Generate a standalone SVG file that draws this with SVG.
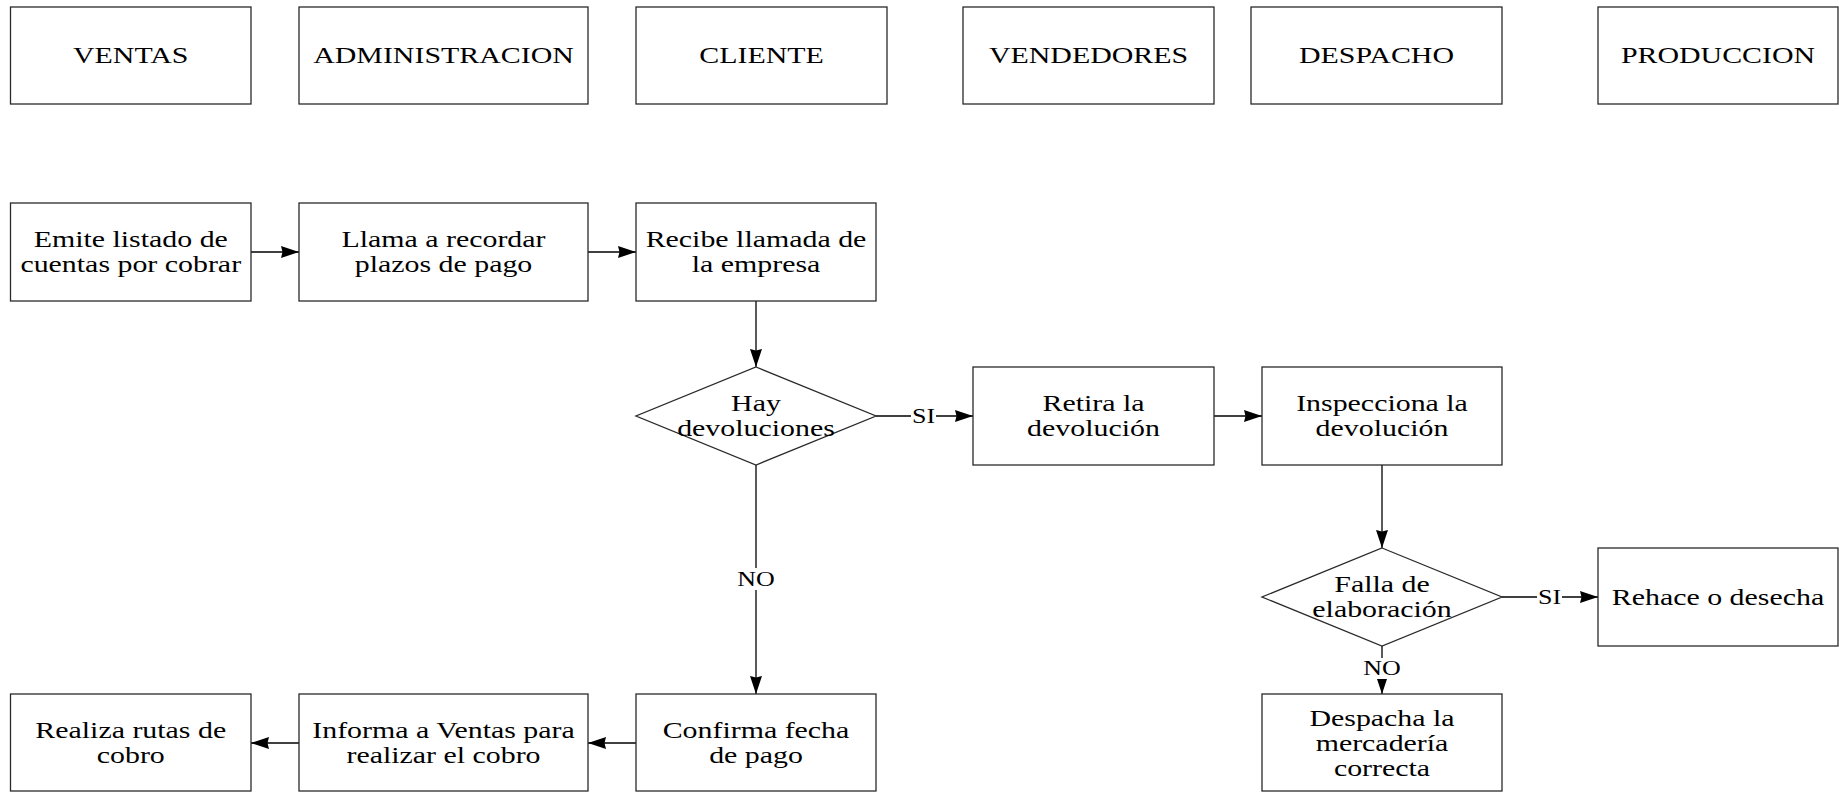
<svg xmlns="http://www.w3.org/2000/svg" width="1839" height="792" viewBox="0 0 1839 792">
<style>
  .box { fill: #ffffff; stroke: #2a2a2a; stroke-width: 1.3; }
  .t { font-family: "Liberation Serif", "Times New Roman", serif; font-size: 23px; fill: #000; text-anchor: middle; }
  .lbl { font-family: "Liberation Serif", "Times New Roman", serif; font-size: 20px; fill: #000; text-anchor: middle; }
  .con { fill: none; stroke: #000; stroke-width: 1.3; }
  .bg { fill: #ffffff; stroke: none; }
</style>
<defs>
  <marker id="arr" markerWidth="18" markerHeight="14" refX="18" refY="7" orient="auto" markerUnits="userSpaceOnUse">
    <path d="M0,1 L18,7 L0,13 L1.5,7 Z" fill="#000"/>
  </marker>
</defs>
<rect width="1839" height="792" fill="#ffffff"/>

<!-- header lanes -->
<g id="h-ventas"><rect class="box" x="10.5" y="7" width="240.5" height="97"/>
  <text class="t" transform="translate(130.75 0) scale(1.3 1)" x="0" y="63.5">VENTAS</text></g>
<g id="h-admin"><rect class="box" x="299" y="7" width="289" height="97"/>
  <text class="t" transform="translate(443.5 0) scale(1.3 1)" x="0" y="63.5">ADMINISTRACION</text></g>
<g id="h-cliente"><rect class="box" x="636" y="7" width="251" height="97"/>
  <text class="t" transform="translate(761.5 0) scale(1.3 1)" x="0" y="63.5">CLIENTE</text></g>
<g id="h-vendedores"><rect class="box" x="963" y="7" width="251" height="97"/>
  <text class="t" transform="translate(1088.5 0) scale(1.3 1)" x="0" y="63.5">VENDEDORES</text></g>
<g id="h-despacho"><rect class="box" x="1251" y="7" width="251" height="97"/>
  <text class="t" transform="translate(1376.5 0) scale(1.3 1)" x="0" y="63.5">DESPACHO</text></g>
<g id="h-produccion"><rect class="box" x="1598" y="7" width="240" height="97"/>
  <text class="t" transform="translate(1718 0) scale(1.3 1)" x="0" y="63.5">PRODUCCION</text></g>

<!-- connectors -->
<g id="connectors">
  <line class="con" x1="251" y1="252" x2="299" y2="252" marker-end="url(#arr)"/>
  <line class="con" x1="588" y1="252" x2="636" y2="252" marker-end="url(#arr)"/>
  <line class="con" x1="756" y1="301" x2="756" y2="367" marker-end="url(#arr)"/>
  <line class="con" x1="876" y1="416" x2="973" y2="416" marker-end="url(#arr)"/>
  <rect class="bg" x="911" y="405" width="25" height="22"/>
  <text class="lbl" transform="translate(923.5 0) scale(1.3 1)" x="0" y="423">SI</text>
  <line class="con" x1="1214" y1="416" x2="1262" y2="416" marker-end="url(#arr)"/>
  <line class="con" x1="756" y1="465" x2="756" y2="694" marker-end="url(#arr)"/>
  <rect class="bg" x="736" y="568" width="40" height="22"/>
  <text class="lbl" transform="translate(756 0) scale(1.3 1)" x="0" y="586">NO</text>
  <line class="con" x1="1382" y1="465" x2="1382" y2="548" marker-end="url(#arr)"/>
  <line class="con" x1="1502" y1="597" x2="1598" y2="597" marker-end="url(#arr)"/>
  <rect class="bg" x="1537" y="586" width="25" height="22"/>
  <text class="lbl" transform="translate(1549.5 0) scale(1.3 1)" x="0" y="604">SI</text>
  <line class="con" x1="1382" y1="646" x2="1382" y2="694" marker-end="url(#arr)"/>
  <rect class="bg" x="1362" y="658" width="40" height="21"/>
  <text class="lbl" transform="translate(1382 0) scale(1.3 1)" x="0" y="675">NO</text>
  <line class="con" x1="636" y1="743" x2="588" y2="743" marker-end="url(#arr)"/>
  <line class="con" x1="299" y1="743" x2="251" y2="743" marker-end="url(#arr)"/>
</g>

<!-- process nodes -->
<g id="n-emite"><rect class="box" x="10.5" y="203" width="240.5" height="98"/>
  <text class="t" transform="translate(130.75 0) scale(1.3 1)"><tspan x="0" y="247.5">Emite listado de</tspan><tspan x="0" y="272.5">cuentas por cobrar</tspan></text></g>
<g id="n-llama"><rect class="box" x="299" y="203" width="289" height="98"/>
  <text class="t" transform="translate(443.5 0) scale(1.3 1)"><tspan x="0" y="247.5">Llama a recordar</tspan><tspan x="0" y="272.5">plazos de pago</tspan></text></g>
<g id="n-recibe"><rect class="box" x="636" y="203" width="240" height="98"/>
  <text class="t" transform="translate(756 0) scale(1.3 1)"><tspan x="0" y="247.5">Recibe llamada de</tspan><tspan x="0" y="272.5">la empresa</tspan></text></g>
<g id="d-devoluciones"><polygon class="box" points="756,367 876,416 756,465 636,416"/>
  <text class="t" transform="translate(756 0) scale(1.3 1)"><tspan x="0" y="411.5">Hay</tspan><tspan x="0" y="436.5">devoluciones</tspan></text></g>
<g id="n-retira"><rect class="box" x="973" y="367" width="241" height="98"/>
  <text class="t" transform="translate(1093.5 0) scale(1.3 1)"><tspan x="0" y="411.5">Retira la</tspan><tspan x="0" y="436.5">devolución</tspan></text></g>
<g id="n-inspecciona"><rect class="box" x="1262" y="367" width="240" height="98"/>
  <text class="t" transform="translate(1382 0) scale(1.3 1)"><tspan x="0" y="411.5">Inspecciona la</tspan><tspan x="0" y="436.5">devolución</tspan></text></g>
<g id="d-falla"><polygon class="box" points="1382,548 1502,597 1382,646 1262,597"/>
  <text class="t" transform="translate(1382 0) scale(1.3 1)"><tspan x="0" y="592.5">Falla de</tspan><tspan x="0" y="617.5">elaboración</tspan></text></g>
<g id="n-rehace"><rect class="box" x="1598" y="548" width="240" height="98"/>
  <text class="t" transform="translate(1718 0) scale(1.3 1)" x="0" y="605">Rehace o desecha</text></g>
<g id="n-despacha"><rect class="box" x="1262" y="694" width="240" height="97"/>
  <text class="t" transform="translate(1382 0) scale(1.3 1)"><tspan x="0" y="726">Despacha la</tspan><tspan x="0" y="751">mercadería</tspan><tspan x="0" y="776">correcta</tspan></text></g>
<g id="n-confirma"><rect class="box" x="636" y="694" width="240" height="97"/>
  <text class="t" transform="translate(756 0) scale(1.3 1)"><tspan x="0" y="738">Confirma fecha</tspan><tspan x="0" y="763">de pago</tspan></text></g>
<g id="n-informa"><rect class="box" x="299" y="694" width="289" height="97"/>
  <text class="t" transform="translate(443.5 0) scale(1.3 1)"><tspan x="0" y="738">Informa a Ventas para</tspan><tspan x="0" y="763">realizar el cobro</tspan></text></g>
<g id="n-realiza"><rect class="box" x="10.5" y="694" width="240.5" height="97"/>
  <text class="t" transform="translate(130.75 0) scale(1.3 1)"><tspan x="0" y="738">Realiza rutas de</tspan><tspan x="0" y="763">cobro</tspan></text></g>
</svg>
